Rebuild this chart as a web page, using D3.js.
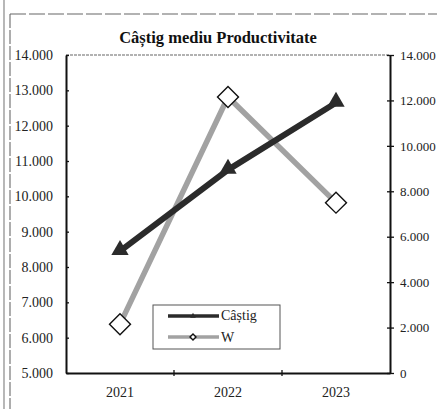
<!DOCTYPE html>
<html><head><meta charset="utf-8">
<script src="https://cdn.jsdelivr.net/npm/d3@7"></script>
<style>
html,body{margin:0;padding:0;background:#fff;}
svg{display:block;font-family:"Liberation Serif","Times New Roman",serif;}
</style></head>
<body>
<svg id="c" width="437" height="409"></svg>
<script>
const years = ["2021", "2022", "2023"];
const castig = [8450, 10750, 12650];
const productivitate = [2150, 12150, 7500];
const leftTicks = [5000, 6000, 7000, 8000, 9000, 10000, 11000, 12000, 13000, 14000];
const rightTicks = [0, 2000, 4000, 6000, 8000, 10000, 12000, 14000];
const title = "Câștig mediu Productivitate";
const seriesNames = ["Câștig", "W"];

const svg = d3.select("#c");
const loc = d3.formatLocale({decimal: ",", thousands: ".", grouping: [3], currency: ["", ""]});
const fmt = loc.format(",");

const L = 66, R = 390, T = 55, B = 373;
const x = d3.scaleBand().domain(years).range([L, R]);
const yL = d3.scaleLinear().domain([5000, 14000]).range([B, T]);
const yR = d3.scaleLinear().domain([0, 14000]).range([B, T]);

// outer frame
svg.append("line").attr("x1", 4).attr("x2", 4).attr("y1", 0).attr("y2", 409).attr("stroke", "#888").attr("stroke-width", 1.2);
svg.append("line").attr("x1", 10).attr("x2", 10).attr("y1", 14).attr("y2", 409).attr("stroke", "#777").attr("stroke-width", 1.2).attr("stroke-dasharray", "14 2");
svg.append("line").attr("x1", 10).attr("x2", 437).attr("y1", 14).attr("y2", 14).attr("stroke", "#666").attr("stroke-width", 1.2).attr("stroke-dasharray", "16 3");

// title
svg.append("text").attr("x", 218).attr("y", 43).attr("text-anchor", "middle")
  .attr("font-weight", "bold").attr("font-size", 16.5).attr("fill", "#111").text(title);

// plot top border
svg.append("line").attr("x1", L).attr("x2", R).attr("y1", T).attr("y2", T).attr("stroke", "#666").attr("stroke-width", 1.2).attr("stroke-dasharray", "3 1");

// left axis
const gl = svg.append("g").attr("transform", `translate(${L},0)`)
  .call(d3.axisLeft(yL).tickValues(leftTicks).tickFormat(fmt).tickSizeInner(4).tickSizeOuter(0).tickPadding(9));
gl.selectAll(".tick line").attr("x2", 3);
// right axis
const gr = svg.append("g").attr("transform", `translate(${R},0)`)
  .call(d3.axisRight(yR).tickValues(rightTicks).tickFormat(fmt).tickSizeInner(4).tickSizeOuter(0).tickPadding(6));
gr.selectAll(".tick line").attr("x1", -3);
// bottom axis
const gb = svg.append("g").attr("transform", `translate(0,${B})`)
  .call(d3.axisBottom(x).tickSize(0).tickPadding(14));
const bounds = years.slice(1).map(d => x(d));
gb.selectAll(".bt").data(bounds).enter().append("line").attr("class", "bt")
  .attr("x1", d => d).attr("x2", d => d).attr("y1", -3).attr("y2", 3).attr("stroke", "#111").attr("stroke-width", 1.3);

[gl, gr, gb].forEach(g => {
  g.select(".domain").attr("stroke", "#111").attr("stroke-width", 2);
  g.selectAll(".tick line").attr("stroke", "#111").attr("stroke-width", 1.3);
  g.selectAll(".tick text").attr("font-size", 14).attr("fill", "#222").attr("font-family", "Liberation Serif, serif");
});
gr.selectAll(".tick text").attr("font-size", 13);

const cx = d => x(d) + x.bandwidth() / 2;

// W line (right axis)
const lineW = d3.line().x((d, i) => cx(years[i])).y(d => yR(d));
svg.append("path").datum(productivitate).attr("d", lineW).attr("fill", "none")
  .attr("stroke", "#a2a2a2").attr("stroke-width", 5.5);

// Câștig line (left axis)
const lineC = d3.line().x((d, i) => cx(years[i])).y(d => yL(d));
svg.append("path").datum(castig).attr("d", lineC).attr("fill", "none")
  .attr("stroke", "#2b2b2b").attr("stroke-width", 6);

// markers
const tri = d3.symbol().type(d3.symbolTriangle).size(130);
svg.selectAll(".tri").data(castig).enter().append("path")
  .attr("d", tri).attr("fill", "#2b2b2b")
  .attr("transform", (d, i) => `translate(${cx(years[i])},${yL(d) - 1})`);

const sq = d3.symbol().type(d3.symbolSquare).size(220);
svg.selectAll(".dia").data(productivitate).enter().append("path")
  .attr("d", sq).attr("fill", "#fff").attr("stroke", "#111").attr("stroke-width", 1.4)
  .attr("transform", (d, i) => `translate(${cx(years[i])},${yR(d)}) rotate(45)`);

// legend
const lg = svg.append("g");
lg.append("rect").attr("x", 153).attr("y", 305).attr("width", 127).attr("height", 44)
  .attr("fill", "#fff").attr("stroke", "#555").attr("stroke-width", 1);
lg.append("line").attr("x1", 168).attr("x2", 219).attr("y1", 316).attr("y2", 316).attr("stroke", "#2b2b2b").attr("stroke-width", 3.5);
lg.append("path").attr("d", d3.symbol().type(d3.symbolTriangle).size(14)).attr("fill", "#2b2b2b").attr("transform", "translate(193,316)");
lg.append("line").attr("x1", 168).attr("x2", 219).attr("y1", 337).attr("y2", 337).attr("stroke", "#a2a2a2").attr("stroke-width", 3.5);
lg.append("path").attr("d", d3.symbol().type(d3.symbolSquare).size(18)).attr("fill", "#fff").attr("stroke", "#111").attr("stroke-width", 1.4).attr("transform", "translate(193,337) rotate(45)");
lg.append("text").attr("x", 221).attr("y", 320).attr("font-size", 14).attr("fill", "#222").text(seriesNames[0]);
lg.append("text").attr("x", 221).attr("y", 342).attr("font-size", 14).attr("fill", "#222").text(seriesNames[1]);
</script>
</body></html>
